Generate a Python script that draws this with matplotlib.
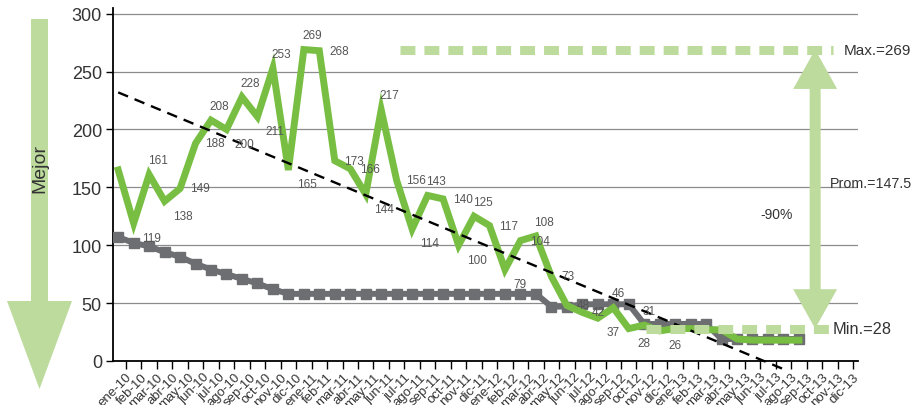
import numpy as np
import matplotlib.pyplot as plt
from matplotlib.patches import FancyArrow

plt.rcParams['font.family'] = ['Liberation Sans', 'DejaVu Sans']

# --- data ---
months = ['ene', 'feb', 'mar', 'abr', 'may', 'jun', 'jul', 'ago', 'sep', 'oct', 'nov', 'dic']
years = ['10', '11', '12', '13']
month_labels = [m + '-' + y for y in years for m in months]

green = [165, 119, 161, 138, 149, 188, 208, 200, 228, 211, 253, 165,
         269, 268, 173, 166, 144, 217, 156, 114, 143, 140, 100, 125,
         117, 79, 104, 108, 73, 48, 42, 37, 46, 28, 31, 26,
         28, 28, 27, 27, 19, 18, 18, 18, 18]
labeled = list(range(1, 36))

grey = [107, 102, 99, 94, 90, 84, 79, 75, 71, 67, 62, 58,
        58, 58, 58, 58, 58, 58, 58, 58, 58, 58, 58, 58,
        58, 58, 58, 58, 47, 47, 49, 49, 49, 49, 32, 32,
        32, 32, 32, 19, 19, 19, 19, 19, 19]

trend_months = [0, 43]
trend_vals = [232, -7]

max_val = 269
min_val = 28
avg_val = 147.5
drop_txt = '-90%'

# --- colours ---
c_green = '#78be43'
c_grey = '#6d6e71'
c_light = '#bddb9d'
c_text = '#333333'

fig = plt.figure(figsize=(9.22, 4.06), dpi=100)
ax = fig.add_axes([113 / 922, 1 - 362 / 406, 745 / 922, 353 / 406])

x_green = np.arange(len(green))
x_grey = np.arange(len(grey))

ax.set_xlim(-0.336, 47.82)
ax.set_ylim(0, 304.9)

ax.set_yticks(np.arange(0, 301, 50))
ax.yaxis.grid(True, color='#8c8c8c', lw=0.9)
ax.set_axisbelow(True)
ax.tick_params(axis='y', labelsize=13, labelcolor=c_text, length=5, width=1, pad=3)

ax.set_xticks(np.arange(len(month_labels)) + 0.5)
ax.set_xticklabels(month_labels, rotation=45, ha='right', va='top',
                   rotation_mode='anchor', fontsize=9.5, color=c_text)
ax.tick_params(axis='x', length=6, width=1, pad=1)

for s in ['top', 'right']:
    ax.spines[s].set_visible(False)
for s in ['left', 'bottom']:
    ax.spines[s].set_linewidth(1.3)

# series
ax.plot(x_grey, grey, color=c_grey, lw=4.3, marker='s', ms=7.5,
        solid_joinstyle='miter', zorder=3)
ax.plot(x_green, green, color=c_green, lw=5, solid_joinstyle='miter', zorder=4)
ax.plot(trend_months, trend_vals, color='black', lw=1.7, ls=(0, (4.5, 3)),
        zorder=5, clip_on=False)

# value labels on the green series: peaks above, troughs below, others to the right
for i in labeled:
    v = green[i]
    prev_v, next_v = green[i - 1], green[i + 1]
    if v >= prev_v and v >= next_v:
        off, ha, va = (-1, 6), 'left', 'bottom'
    elif v <= prev_v and v <= next_v:
        off, ha, va = (6, -6), 'left', 'top'
    else:
        off, ha, va = (7, 0), 'left', 'center'
    ax.annotate(str(v), (i, v), xytext=off, textcoords='offset points',
                ha=ha, va=va, fontsize=8.5, color='#555555', zorder=6)

# max / min reference lines
dot = dict(color=c_light, lw=6.5, ls=(0, (1.65, 1.0)), solid_capstyle='butt',
           dash_capstyle='butt', zorder=6)
ax.plot([18.2, 46.2], [max_val, max_val], **dot)
ax.plot([34.1, 46.2], [min_val, min_val], **dot)

# double arrow between max and min
ax_x = 45.05
mid = (max_val + min_val) / 2
for tip in (max_val, min_val):
    ax.add_patch(FancyArrow(ax_x, mid, 0, tip - mid, width=0.71, head_width=2.84,
                            head_length=34, length_includes_head=True,
                            color=c_light, lw=0, zorder=5, clip_on=False))

ax.text(46.9, max_val, 'Max.=%d' % max_val, fontsize=11, color=c_text,
        ha='left', va='center')
ax.text(46.0, avg_val, 'Prom.=%s' % avg_val, fontsize=10.3, color=c_text,
        ha='left', va='bottom')
ax.text(46.2, min_val, 'Min.=%d' % min_val, fontsize=11.8, color=c_text,
        ha='left', va='center')
ax.text(41.5, 127, drop_txt, fontsize=10, color=c_text, ha='left', va='center')

# "better" arrow on the left, in figure pixels
ov = fig.add_axes([0, 0, 1, 1], zorder=-1)
ov.set_xlim(0, 922)
ov.set_ylim(406, 0)
ov.axis('off')
ov.add_patch(FancyArrow(39.5, 20, 0, 370, width=17, head_width=65, head_length=88,
                        length_includes_head=True, color=c_light, lw=0))
ov.text(40, 169, 'Mejor', rotation=90, fontsize=14, color=c_text,
        ha='center', va='center')

fig.savefig('out.png', dpi=100)
